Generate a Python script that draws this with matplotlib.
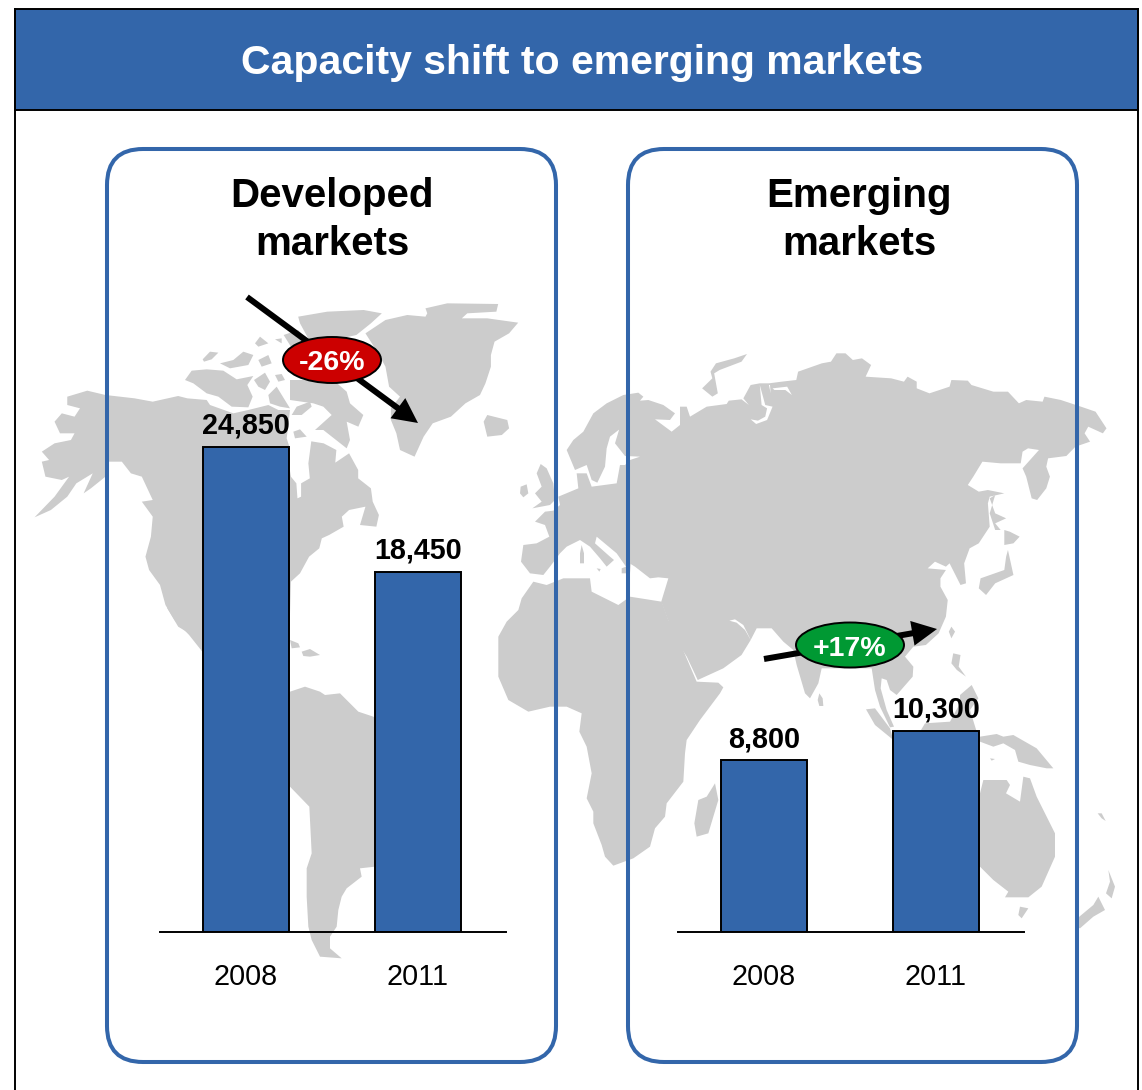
import matplotlib
matplotlib.use('Agg')
import matplotlib.pyplot as plt
from matplotlib.patches import Polygon, Rectangle, FancyBboxPatch, Ellipse, FancyArrow

plt.rcParams['font.family'] = ['Liberation Sans', 'DejaVu Sans']

W, H = 1142, 1090
BLUE = '#3366aa'
GREY = '#cccccc'

years = ['2008', '2011']
developed = [24850, 18450]
emerging = [8800, 10300]
panel_titles = ['Developed\nmarkets', 'Emerging\nmarkets']
title = 'Capacity shift to emerging markets'


def c1(pts):
    return [(x / 2.75, 280 + y / 3) for x, y in pts]

def c2(pts):
    return [(570 + x / 2.74, 330 + y / 3) for x, y in pts]

def c3(pts):
    return [(280 + x / 3, 560 + y / 3) for x, y in pts]

def c4(pts):
    return [(800 + x / 3, 660 + y / 3) for x, y in pts]

def c5(pts):
    return [(510 + x / 3, 390 + y / 3) for x, y in pts]

def c6(pts):
    return [(190 + x / 3, 300 + y / 3) for x, y in pts]

def c7(pts):
    return [(690 + x / 3, 600 + y / 3) for x, y in pts]


land = [
    # north america
    c1([(185,350),(240,332),(290,345),(370,355),(420,365),(490,348),(515,355)])
    + c6([(50,300),(60,315),(130,340),(175,330),(235,315),(265,330),(300,330),(295,375),(290,415),(298,440),(298,500)])
    + c1([(800,590),(815,610),(818,655),(828,650),(828,610),(852,595),(848,550),(856,484),
        (890,490),(925,510),(922,548),(960,520),(985,570),(985,595),(1020,625),(1025,665),(1042,705),(1035,740),(990,735),
        (1005,680),(960,690),(940,710),(945,740),(905,765),(885,775),(878,805),(850,830),(825,880),(800,905),(795,1100),
        (560,1120),(520,1065),(480,1020),(455,975),(440,915),(410,870),(400,830),(415,770),(420,710),(390,665),(420,660),
        (390,590),(360,580),(335,545),(300,545),(290,590),(250,625),(230,640),(255,580),(210,610),(185,650),(140,690),
        (95,712),(150,650),(190,590),(170,600),(125,590),(115,545),(135,540),(115,515),(150,490),(195,480),(205,460),
        (165,460),(150,425),(170,400),(205,410),(220,385),(185,375)]),
    c1([(460,985),(480,945),(500,1005),(520,1060),(490,1040)]),
    # canadian arctic
    c6([(-15,240),(5,212),(50,208),(100,212),(140,238),(190,228),(172,255),(188,290),(175,322),(125,320),(85,290),(50,280),(10,250)]),
    c6([(38,178),(60,155),(85,158),(65,178),(42,185)]),
    c6([(90,190),(130,180),(160,155),(190,165),(175,195),(120,205)]),
    c6([(205,180),(235,165),(245,190),(215,200)]),
    c6([(195,130),(210,110),(235,130),(205,140)]),
    c6([(255,118),(275,115),(275,130)]),
    c6([(192,240),(225,218),(240,245),(225,270),(205,260)]),
    c6([(255,225),(275,222),(285,240),(265,245)]),
    c6([(235,285),(260,260),(300,325),(270,320),(240,310)]),
    c6([(320,320),(360,305),(365,320),(335,345),(305,345)]),
    c6([(300,240),(350,240),(430,240),(470,275),(480,310),(520,345),(505,380),(470,365),(480,420),(470,445),(400,390),(375,390),
        (425,345),(400,320),(370,310),(300,300)]),
    c6([(310,395),(330,388),(350,410),(315,415)]),
    c1([(820,110),(900,95),(1000,90),(1050,100),(1020,130),(980,165),(900,185),(850,180),(825,130)]),
    c1([(780,165),(820,150),(845,180),(800,200)]),
    # greenland, iceland, britain, caribbean
    c1([(1170,85),(1230,70),(1370,72),(1365,95),(1285,100),(1270,115),(1340,115),(1425,128),(1400,160),(1360,185),(1350,225),
        (1350,260),(1335,310),(1320,345),(1280,370),(1240,410),(1190,430),(1165,470),(1140,530),(1100,510),(1090,460),
        (1075,420),(1075,385),(1100,350),(1070,320),(1060,260),(1040,220),(1005,160),(1060,120),(1120,105),(1170,110),(1175,100)]),
    c1([(1330,425),(1340,405),(1395,420),(1400,445),(1380,465),(1340,470)]),
    c5([(80,250),(92,222),(110,235),(130,280),(135,330),(120,345),(67,355),(95,335),(75,310),(95,290)]),
    c5([(32,290),(50,283),(55,310),(40,322),(30,310)]),
    c3([(30,240),(55,250),(60,262),(35,265)]),
    c3([(65,275),(90,267),(120,285),(90,290),(70,288)]),
    # south america
    c3([(-20,450),(30,395),(75,380),(120,395),(135,405),(180,400),(205,425),(235,455),(280,470),(340,510),(345,560),(300,620),
        (285,920),(240,925),(245,950),(200,985),(185,1010),(175,1050),(170,1100),(150,1130),(150,1165),(185,1195),(120,1190),
        (95,1140),(85,1100),(80,1010),(80,925),(95,880),(88,740),(30,680),(-20,600)]),
    # eurasia, going round from norway
    c5([(170,180),(190,150),(220,125),(250,70),(290,40),(340,15),(385,8),(400,20),(390,32),(415,30),(460,45),(495,70),(480,90),
        (435,88),(485,125),(510,105),(510,50),(530,50),(540,80),(590,50),(650,42)])
    + c2([(435,212),(470,208),(490,225),(475,205),
        (495,165),(520,160),(545,160),(580,155),(620,150),(625,125),(690,100),(715,95),(730,70),(755,70),(775,90),(800,85),
        (825,105),(810,140),(880,145),(915,155),(925,140),(950,155),(950,175),(985,190),(1040,170),(1045,150),(1090,152),
        (1100,165),(1160,185),(1200,185),(1230,220),(1250,210),(1295,215),(1300,200),(1345,210),(1400,230),(1440,245),
        (1470,295),(1460,310),(1420,290),(1410,310),(1425,335),(1385,350),(1360,378),(1310,385),(1305,410),(1315,440),
        (1305,475),(1280,510),(1265,505),(1250,440),(1240,415),(1285,360),(1255,355),(1240,365),(1235,400),(1180,400),
        (1130,395),(1105,440),(1090,465),(1120,485),(1145,480),(1190,490),(1150,500),(1145,520),(1150,590),(1120,640),
        (1095,655),(1080,700),(1085,760),(1070,765),(1040,700),(1030,710),(1000,695),(980,715),(1030,720),(1015,745),
        (1015,770),(1035,810),(1030,860),(1010,910),(975,945)])
    + c7([(670,140),(645,170),(670,200),(668,230),(620,285),(600,270),(590,240),(575,235),(572,265),(590,330),(612,380),(600,382),
          (570,320),(555,270),(545,205),(395,205),(385,250),(360,295),(345,280),(320,195),(310,150),(280,125),(245,85),(200,85),(182,120)])
    + c2([(470,975),(420,1015),(350,1050),(320,980),(290,930),(265,860),(250,815)])
    + c5([(475,565),(445,562),(420,565),(375,530),(362,522),(360,550),(335,550),(335,535),(348,530),(320,490),(260,440),(255,460),
          (300,500),(312,510),(290,530),(270,505),(240,470),(210,450),(170,470),(150,490),(120,530),(100,555),(60,550),(33,515),
          (40,465),(80,460),(118,440),(105,405),(75,395),(105,365),(130,362),(150,345),(145,320),(205,295),(200,250),(230,250),
          (245,290),(320,280),(330,225),(345,225),(360,210),(390,200),(345,198),(315,160),(330,110),(345,105),(300,140),(290,175),
          (285,230),(262,278),(245,270),(230,225),(195,240)]),
    # arctic and japan islands
    c2([(385,125),(400,100),(450,85),(485,72),(470,95),(410,120),(395,130),(405,190),(390,200),(362,175),(390,145)]),
    c2([(1165,495),(1150,505),(1165,550),(1195,565),(1165,580),(1180,600),(1165,600),(1150,550)]),
    c2([(1190,600),(1205,605),(1232,620),(1215,640),(1190,645)]),
    c2([(1200,660),(1215,735),(1165,760),(1140,795),(1120,775),(1125,745),(1190,720),(1195,680)]),
    c2([(1045,890),(1055,905),(1045,925),(1038,905)]),
    c2([(1050,970),(1070,975),(1065,1010),(1085,1040),(1060,1020),(1045,1000)]),
    c5([(215,465),(222,490),(222,520),(210,520),(210,490)]),
    c5([(260,535),(272,537),(268,545)]),
    # africa
    c3([(760,65),(800,75),(850,55),(930,55),(935,95),(1015,135),(1050,110),(1145,125),(1165,180),(1205,260),(1250,365),
        (1315,368),(1330,382),(1320,400),(1260,480),(1220,540),(1215,580),(1210,665),(1160,730),(1155,770),(1125,805),(1110,860),
        (1060,895),(1000,917),(975,890),(965,855),(940,790),(940,755),(920,715),(935,640),(920,560),(898,515),(905,460),
        (860,440),(810,440),(745,455),(685,420),(655,350),(655,230),(680,185),(715,150),(725,115)]),
    c3([(1305,670),(1315,720),(1285,820),(1250,830),(1243,790),(1255,720),(1280,710)]),
    # south east asia and oceania
    c7([(388,280),(398,295),(400,318),(388,318),(383,300)]),
    c7([(528,328),(555,325),(600,385),(610,420),(555,375)]),
    c4([(360,215),(375,190),(450,185),(480,130),(480,105),(515,75),(535,115),(510,150),(530,215)]),
    c4([(540,230),(590,222),(610,230),(640,225),(710,265),(760,325),(740,325),(690,315),(655,305),(645,270),(610,250),(580,260),(540,245)]),
    c4([(570,295),(585,297),(575,302)]),
    c4([(500,400),(540,400),(550,360),(620,360),(630,375),(618,400),(660,425),(670,350),(690,355),(710,410),(765,520),(765,590),
        (725,680),(685,712),(615,712),(625,695),(580,660),(540,620),(500,620)]),
    c4([(660,740),(685,745),(665,775),(655,765)]),
    c4([(925,630),(945,680),(935,715),(918,700),(930,665)]),
    c4([(895,710),(915,750),(880,770),(840,805),(825,800),(838,770),(880,735)]),
    c4([(893,460),(905,460),(917,483),(905,475)]),
]

# inland water cut out of the land shapes
water = [
    c7([(118,62),(135,58),(160,75),(185,125),(165,90),(140,68)]),
    c2([(520,165),(535,225),(555,230),(540,270),(510,282),(495,268),(515,272),(535,260),(540,235),(525,225)]),
    c2([(545,165),(550,190),(548,165)]),
    c2([(555,175),(595,170),(608,195),(590,180),(560,180)]),
    c5([(445,575),(457,572),(450,582)]),
]

fig = plt.figure(figsize=(W / 100, H / 100), dpi=100)

bg = fig.add_axes([0, 0, 1, 1])
bg.set_xlim(0, W)
bg.set_ylim(H, 0)
bg.axis('off')

for pts in land:
    bg.add_patch(Polygon(pts, closed=True, facecolor=GREY, edgecolor='none', zorder=1))
for pts in water:
    bg.add_patch(Polygon(pts, closed=True, facecolor='white', edgecolor='none', zorder=1.5))

# header band and page frame
bg.add_patch(Rectangle((15, 9), 1123, 101, facecolor=BLUE, edgecolor='black', linewidth=1.4, zorder=3))
bg.plot([15, 15], [9, H], color='black', linewidth=1.4, zorder=3)
bg.plot([1138, 1138], [9, H], color='black', linewidth=1.4, zorder=3)
bg.text(582, 63, title, color='white', fontsize=29.5, fontweight='bold', ha='center', va='center', zorder=4)

for x0, text_x, panel_title in zip([107, 628], [332, 859], panel_titles):
    bg.add_patch(FancyBboxPatch((x0 + 36, 149 + 36), 449 - 72, 913 - 72, boxstyle='round,pad=36,rounding_size=36',
                                facecolor='none', edgecolor=BLUE, linewidth=2.9, zorder=3))
    first, second = panel_title.split('\n')
    bg.text(text_x, 196, first, fontsize=29, fontweight='bold', ha='center', va='center', zorder=4)
    bg.text(text_x, 244, second, fontsize=29, fontweight='bold', ha='center', va='center', zorder=4)

# trend arrows with their change badges
bg.add_patch(FancyArrow(247, 297, 171, 126, width=6, head_width=25, head_length=25, length_includes_head=True,
                        facecolor='black', edgecolor='black', linewidth=0, zorder=5))
bg.add_patch(FancyArrow(764, 659, 173, -30, width=6, head_width=25, head_length=25, length_includes_head=True,
                        facecolor='black', edgecolor='black', linewidth=0, zorder=5))
bg.add_patch(Ellipse((332, 360), 98, 46, facecolor='#cc0000', edgecolor='black', linewidth=1.4, zorder=6))
bg.add_patch(Ellipse((850, 645), 108, 45, facecolor='#009933', edgecolor='black', linewidth=1.4, zorder=6))
bg.text(332, 363, '-26%', color='white', fontsize=20.5, fontweight='bold', ha='center', va='center', zorder=7)
bg.text(850, 649, '+17%', color='white', fontsize=20.5, fontweight='bold', ha='center', va='center', zorder=7)

# bar panels share one value scale: 24,850 spans 485 px
ymax = 40000
ax_height = ymax * 485 / 24850

for left, values in zip([160, 678], [developed, emerging]):
    ax = fig.add_axes([left / W, (H - 932) / H, 346 / W, ax_height / H], zorder=2)
    ax.patch.set_alpha(0)
    ax.bar(range(len(years)), values, width=0.5, color=BLUE, edgecolor='black', linewidth=1.4)
    ax.set_xlim(-0.5, 1.512)
    ax.set_ylim(0, ymax)
    for spine in ['top', 'left', 'right']:
        ax.spines[spine].set_visible(False)
    ax.spines['bottom'].set_linewidth(1.4)
    ax.set_yticks([])
    ax.set_xticks(range(len(years)))
    ax.set_xticklabels(years, fontsize=20.7)
    ax.tick_params(axis='x', length=0, pad=22)
    for i, v in enumerate(values):
        ax.annotate(f'{v:,}', (i, v), xytext=(0, 9.5), textcoords='offset points',
                    ha='center', va='baseline', fontsize=20.7, fontweight='bold')

fig.savefig('out.png', dpi=100)
